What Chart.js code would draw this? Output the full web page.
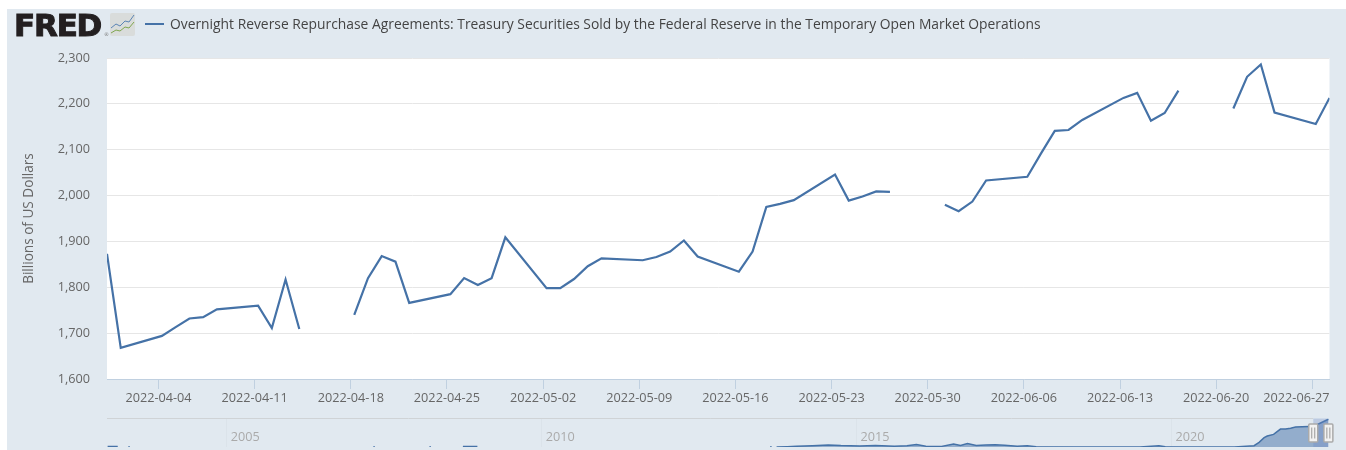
<!DOCTYPE html>
<html>
<head>
<meta charset="utf-8">
<title>Overnight Reverse Repurchase Agreements</title>
<script src="https://cdn.jsdelivr.net/npm/chart.js@4/dist/chart.umd.min.js"></script>
<style>
    html, body { margin: 0; padding: 0; width: 1346px; height: 450px; overflow: hidden; background: #fff; }
    #panel { position: absolute; left: 7px; top: 9px; right: 0; bottom: 0; background: #e1e9f0; }
    canvas { position: absolute; left: 0; }
    #mainChart { top: 0; }
    #navChart { top: 412px; }
    #logo { position: absolute; left: 14px; top: 7px; font: bold 31px "DejaVu Sans"; letter-spacing: -1.2px; color: #231f20; -webkit-text-stroke: 1px #231f20; line-height: 36px; }
    #logoMark { position: absolute; left: 104px; top: 31px; font: 5px "DejaVu Sans"; color: #777; line-height: 6px; }
    #logoIcon { position: absolute; left: 110px; top: 13px; }
    #legendLine { position: absolute; left: 145px; top: 22.5px; width: 19px; height: 2px; background: #4572a7; }
    #legendText { position: absolute; left: 170px; top: 15px; font: 13.85px "Open Sans"; line-height: 18px; color: #444; white-space: nowrap; }
</style>
</head>
<body>
<div id="panel"></div>
<canvas id="mainChart" width="1346" height="418"></canvas>
<canvas id="navChart" width="1346" height="38"></canvas>
<div id="logo">FRED</div>
<div id="logoMark">®</div>
<svg id="logoIcon" width="25" height="23" viewBox="0 0 25 23">
    <rect width="25" height="23" rx="2" fill="#d9dcdb"/>
    <polyline points="1,15 6,11 10,13 15,8 19,9 24,2" fill="none" stroke="#5b85b5" stroke-width="1"/>
    <polyline points="1,20 6,17 10,18 15,14 19,15 24,9" fill="none" stroke="#7fa650" stroke-width="1"/>
</svg>
<div id="legendLine"></div>
<div id="legendText"></div>

<script>
const seriesName = 'Overnight Reverse Repurchase Agreements: Treasury Securities Sold by the Federal Reserve in the Temporary Open Market Operations';
const yAxisTitle = 'Billions of US Dollars';

// Dias de operacion; los feriados quedan en null para cortar la linea
const dates = [
    '2022-03-31', '2022-04-01', '2022-04-04', '2022-04-05', '2022-04-06', '2022-04-07', '2022-04-08',
    '2022-04-11', '2022-04-12', '2022-04-13', '2022-04-14', '2022-04-15',
    '2022-04-18', '2022-04-19', '2022-04-20', '2022-04-21', '2022-04-22',
    '2022-04-25', '2022-04-26', '2022-04-27', '2022-04-28', '2022-04-29',
    '2022-05-02', '2022-05-03', '2022-05-04', '2022-05-05', '2022-05-06',
    '2022-05-09', '2022-05-10', '2022-05-11', '2022-05-12', '2022-05-13',
    '2022-05-16', '2022-05-17', '2022-05-18', '2022-05-19', '2022-05-20',
    '2022-05-23', '2022-05-24', '2022-05-25', '2022-05-26', '2022-05-27',
    '2022-05-30', '2022-05-31', '2022-06-01', '2022-06-02', '2022-06-03',
    '2022-06-06', '2022-06-07', '2022-06-08', '2022-06-09', '2022-06-10',
    '2022-06-13', '2022-06-14', '2022-06-15', '2022-06-16', '2022-06-17',
    '2022-06-20', '2022-06-21', '2022-06-22', '2022-06-23', '2022-06-24',
    '2022-06-27', '2022-06-28'
];
const values = [
    1873, 1668, 1694, 1713, 1732, 1735, 1752,
    1760, 1711, 1817, 1709, null,
    1740, 1820, 1868, 1856, 1766,
    1785, 1820, 1805, 1820, 1909,
    1798, 1798, 1818, 1846, 1863,
    1859, 1866, 1878, 1902, 1867,
    1834, 1878, 1975, 1982, 1990,
    2046, 1989, 1998, 2009, 2008,
    null, 1980, 1966, 1987, 2033,
    2041, 2092, 2141, 2143, 2165,
    2213, 2224, 2163, 2180, 2229,
    null, 2190, 2259, 2286, 2181,
    2156, 2213
];
const xTickDates = [
    '2022-04-04', '2022-04-11', '2022-04-18', '2022-04-25', '2022-05-02', '2022-05-09',
    '2022-05-16', '2022-05-23', '2022-05-30', '2022-06-06', '2022-06-13', '2022-06-20', '2022-06-27'
];
const yTicks = [1600, 1700, 1800, 1900, 2000, 2100, 2200, 2300];

// Serie larga de la barra de navegacion
const navYears = [
    2003.11, 2003.27, 2003.3, 2003.44, 2003.46, 2003.5, 2007.33, 2007.35, 2007.4, 2008.22, 2008.24, 2008.3,
    2008.75, 2008.98, 2009.0, 2013.63, 2013.65, 2013.7,
    2013.73, 2013.9, 2014.05, 2014.3, 2014.55, 2014.75, 2015.05, 2015.3, 2015.6, 2015.8, 2015.95,
    2016.1, 2016.35, 2016.54, 2016.65, 2016.76, 2016.9, 2017.05, 2017.2, 2017.35, 2017.55, 2017.71, 2017.85,
    2018.5, 2019.5, 2019.8, 2019.9, 2020.2, 2021.0, 2021.31, 2021.39, 2021.47, 2021.52, 2021.62, 2021.73,
    2021.81, 2021.89, 2021.97, 2022.18, 2022.25, 2022.49
];
const navValues = [
    40, 40, null, 30, 30, null, 30, 30, null, 30, 30, null,
    50, 50, null, 20, 20, null,
    10, 30, 60, 100, 165, 120, 90, 130, 70, 110, 200,
    70, 50, 250, 120, 280, 130, 170, 190, 140, 60, 110, 20,
    5, 5, 100, 20, 5, 5, 105, 380, 750, 890, 1020, 1450,
    1450, 1510, 1610, 1650, 1660, 2240
];
const navTicks = [2005, 2010, 2015, 2020];
const navRange = [2003.1, 2022.5];
const navSelection = [2022.25, 2022.49];

const lineColor = '#4572a7';
const tickColor = '#c0d0e0';
const labelColor = '#666';
const labelFont = { family: 'Open Sans', size: 12.7 };

// Los puntos caen unas horas despues de la marca del eje
const pointOffset = 0.25;
const dayNumber = date => Date.parse(date + 'T00:00:00Z') / 86400000;
const formatThousands = v => String(v).replace(/\B(?=(\d{3})+$)/, ',');

document.getElementById('legendText').textContent = seriesName;

// Fondo blanco del area de trazado y ultima etiqueta pegada al borde derecho
const plotBackground = {
    id: 'plotBackground',
    beforeDraw(chart) {
        const { ctx, chartArea: a } = chart;
        ctx.save();
        ctx.fillStyle = '#fff';
        ctx.fillRect(a.left, a.top, a.right - a.left, a.bottom - a.top);
        ctx.restore();
    },
    afterDraw(chart) {
        const { ctx, chartArea: a } = chart;
        ctx.save();
        ctx.font = `${labelFont.size}px "${labelFont.family}"`;
        ctx.fillStyle = labelColor;
        ctx.textAlign = 'right';
        ctx.textBaseline = 'middle';
        ctx.fillText(xTickDates[xTickDates.length - 1], a.right, a.bottom + 19.6);
        ctx.restore();
    }
};

new Chart(document.getElementById('mainChart').getContext('2d'), {
    type: 'line',
    data: {
        datasets: [{
            label: seriesName,
            data: dates.map((d, i) => ({ x: dayNumber(d) + pointOffset, y: values[i] })),
            borderColor: lineColor,
            borderWidth: 2.2,
            pointRadius: 0,
            tension: 0,
            spanGaps: false
        }]
    },
    options: {
        responsive: false,
        animation: false,
        layout: { padding: { top: 58, right: 16.5, left: 0, bottom: 0 } },
        plugins: { legend: { display: false }, tooltip: { enabled: false } },
        scales: {
            x: {
                type: 'linear',
                min: dayNumber(dates[0]) + pointOffset,
                max: dayNumber(dates[dates.length - 1]) + pointOffset,
                afterBuildTicks: scale => { scale.ticks = xTickDates.map(d => ({ value: dayNumber(d) })); },
                afterFit: scale => { scale.height = 39; },
                border: { color: tickColor, width: 1 },
                grid: { drawOnChartArea: false, color: tickColor, tickLength: 10 },
                ticks: {
                    autoSkip: false,
                    maxRotation: 0,
                    padding: 2,
                    color: labelColor,
                    font: labelFont,
                    callback: (v, i) => (i === xTickDates.length - 1 ? '' : xTickDates[i])
                }
            },
            y: {
                min: 1600,
                max: 2300,
                afterBuildTicks: scale => { scale.ticks = yTicks.map(v => ({ value: v })); },
                afterFit: scale => { scale.width = 107; },
                border: { display: false },
                grid: { color: '#e6e6e6', drawTicks: false },
                title: {
                    display: true,
                    text: yAxisTitle,
                    color: labelColor,
                    font: { family: 'Open Sans', size: 13.6 },
                    padding: { top: 21, bottom: 0 }
                },
                ticks: { padding: 17, color: labelColor, font: labelFont, callback: v => formatThousands(v) }
            }
        }
    },
    plugins: [plotBackground]
});

// Banda seleccionada, borde superior y tiradores de la barra de navegacion
const navDecor = {
    id: 'navDecor',
    afterDraw(chart) {
        const { ctx, chartArea: a, scales: { x } } = chart;
        const from = x.getPixelForValue(navSelection[0]);
        const to = x.getPixelForValue(navSelection[1]);
        ctx.save();
        ctx.fillStyle = 'rgba(102,133,194,0.3)';
        ctx.fillRect(from, a.top, to - from, a.bottom - a.top);
        ctx.strokeStyle = '#cfd3d6';
        ctx.lineWidth = 1;
        ctx.beginPath();
        ctx.moveTo(a.left, a.top);
        ctx.lineTo(from, a.top);
        ctx.stroke();
        [from, to].forEach(px => {
            ctx.fillStyle = '#f2f2f2';
            ctx.strokeStyle = '#aaa';
            ctx.lineWidth = 1.5;
            ctx.beginPath();
            ctx.roundRect(px - 4.5, a.top + 5.5, 9, 18, 1);
            ctx.fill();
            ctx.stroke();
            ctx.strokeStyle = '#999';
            ctx.lineWidth = 1;
            ctx.beginPath();
            ctx.moveTo(px - 1.5, a.top + 9);
            ctx.lineTo(px - 1.5, a.top + 20);
            ctx.moveTo(px + 1.5, a.top + 9);
            ctx.lineTo(px + 1.5, a.top + 20);
            ctx.stroke();
        });
        ctx.restore();
    }
};

new Chart(document.getElementById('navChart').getContext('2d'), {
    type: 'line',
    data: {
        datasets: [{
            data: navYears.map((year, i) => ({ x: year, y: navValues[i] })),
            borderColor: lineColor,
            borderWidth: 1.5,
            backgroundColor: 'rgba(69,114,167,0.5)',
            fill: 'origin',
            pointRadius: 0,
            tension: 0,
            spanGaps: false
        }]
    },
    options: {
        responsive: false,
        animation: false,
        layout: { padding: { top: 6.5, left: 107, right: 17, bottom: 3 } },
        plugins: { legend: { display: false }, tooltip: { enabled: false } },
        scales: {
            x: {
                type: 'linear',
                min: navRange[0],
                max: navRange[1],
                afterBuildTicks: scale => { scale.ticks = navTicks.map(v => ({ value: v })); },
                afterFit: scale => { scale.height = 0; },
                border: { display: false },
                grid: { color: '#dbe3ea', drawTicks: false },
                ticks: {
                    autoSkip: false,
                    maxRotation: 0,
                    mirror: true,
                    align: 'start',
                    padding: 2.4,
                    labelOffset: 4,
                    color: '#aaa',
                    font: labelFont,
                    callback: v => String(v)
                }
            },
            y: { display: false, min: 0, max: 2300 }
        }
    },
    plugins: [navDecor]
});
</script>
</body>
</html>
